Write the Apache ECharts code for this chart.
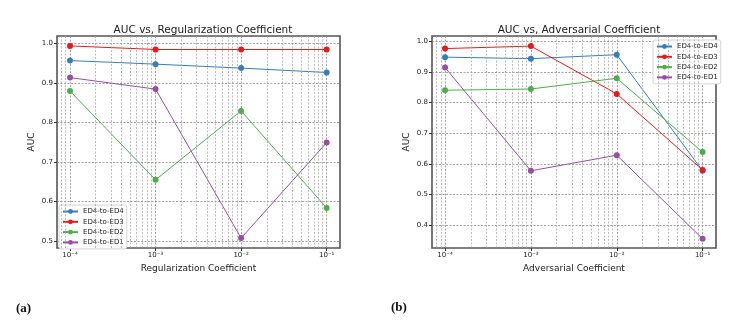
<!DOCTYPE html>
<html>
<head>
<meta charset="utf-8">
<script src="https://cdn.jsdelivr.net/npm/echarts@6/dist/echarts.min.js"></script>
<style>
  html, body { margin: 0; padding: 0; background: #fff; }
  #main { width: 756px; height: 333px; }
</style>
</head>
<body>
<div id="main"></div>
<script>
// coefficient values on the x axis (same for both panels)
var coefs = [1e-4, 1e-3, 1e-2, 1e-1];
var xTickLabels = ['10⁻⁴', '10⁻³', '10⁻²', '10⁻¹'];
var names = ['ED4-to-ED4', 'ED4-to-ED3', 'ED4-to-ED2', 'ED4-to-ED1'];
var colors = ['#377eb8', '#e41a1c', '#4daf4a', '#984ea3'];

// (a) AUC vs regularization coefficient
var regED4 = [0.956, 0.947, 0.937, 0.926];
var regED3 = [0.993, 0.984, 0.984, 0.984];
var regED2 = [0.879, 0.655, 0.829, 0.584];
var regED1 = [0.913, 0.884, 0.508, 0.749];
var regTicks = [0.5, 0.6, 0.7, 0.8, 0.9, 1.0];

// (b) AUC vs adversarial coefficient
var advED4 = [0.948, 0.943, 0.956, 0.577];
var advED3 = [0.976, 0.984, 0.828, 0.580];
var advED2 = [0.840, 0.844, 0.879, 0.638];
var advED1 = [0.914, 0.577, 0.628, 0.355];
var advTicks = [0.4, 0.5, 0.6, 0.7, 0.8, 0.9, 1.0];

var xMin = -4.152, xMax = -0.844;
var exps = coefs.map(function (c) { return Math.log10(c); });

// minor grid positions like matplotlib's log axis (2..9 in each decade)
var minor = [];
for (var n = -5; n <= -1; n++) {
  for (var k = 2; k <= 9; k++) {
    var v = n + Math.log10(k);
    if (v > xMin && v < xMax) minor.push(v);
  }
}

var chart = echarts.init(document.getElementById('main'));
var font = 'DejaVu Sans';
var gridLine = { show: true, lineStyle: { color: '#8c8c8c', type: [2, 1.5], width: 0.8 } };

function xAxisFor(idx, name) {
  return {
    type: 'value', gridIndex: idx, min: xMin, max: xMax,
    name: name, nameLocation: 'middle', nameGap: 16,
    nameTextStyle: { fontFamily: font, fontSize: 9, color: '#222' },
    axisLine: { show: false },
    axisTick: { show: true, length: 3, customValues: exps, lineStyle: { color: '#333' } },
    axisLabel: {
      customValues: exps, fontFamily: font, fontSize: 7, color: '#222', margin: 4,
      formatter: function (v) {
        var i = exps.findIndex(function (e) { return Math.abs(e - v) < 1e-6; });
        return i >= 0 ? xTickLabels[i] : '';
      }
    },
    splitLine: gridLine
  };
}

function yAxisFor(idx, min, max, ticks) {
  return {
    type: 'value', gridIndex: idx, min: min, max: max,
    name: 'AUC', nameLocation: 'middle', nameGap: 21,
    nameTextStyle: { fontFamily: font, fontSize: 9, color: '#222' },
    axisLine: { show: false },
    axisTick: { show: true, length: 3, customValues: ticks, lineStyle: { color: '#333' } },
    axisLabel: {
      customValues: ticks, fontFamily: font, fontSize: 7, color: '#222', margin: 4,
      formatter: function (v) { return v.toFixed(1); }
    },
    splitLine: gridLine
  };
}

function lineSeries(name, vals, i, idx) {
  return {
    name: name, type: 'line', xAxisIndex: idx, yAxisIndex: idx,
    data: vals.map(function (v, j) { return [exps[j], v]; }),
    symbol: 'circle', symbolSize: 6, color: colors[i],
    lineStyle: { width: 1, color: colors[i] },
    itemStyle: { color: colors[i] },
    z: 3
  };
}

function minorSeries(idx) {
  return {
    type: 'line', xAxisIndex: idx, yAxisIndex: idx, data: [], silent: true,
    markLine: {
      silent: true, symbol: 'none', label: { show: false },
      lineStyle: { color: '#a0a0a0', type: [2, 1.5], width: 0.7 },
      data: minor.map(function (v) { return { xAxis: v }; }),
      animation: false
    }
  };
}

function legendFor(left, top) {
  return {
    data: names, orient: 'vertical', left: left, top: top,
    itemWidth: 15, itemHeight: 6, itemGap: 3.3, padding: [3, 3, 3, 3],
    backgroundColor: '#fff', borderColor: '#ccc', borderWidth: 0.8, borderRadius: 2,
    textStyle: { fontFamily: font, fontSize: 7, color: '#222' }
  };
}

var option = {
  animation: false,
  title: [
    { text: 'AUC vs, Regularization Coefficient', left: 198, top: 20, textAlign: 'center',
      textStyle: { fontFamily: font, fontSize: 10.5, fontWeight: 'normal', color: '#222' } },
    { text: 'AUC vs, Adversarial Coefficient', left: 574, top: 20, textAlign: 'center',
      textStyle: { fontFamily: font, fontSize: 10.5, fontWeight: 'normal', color: '#222' } },
    { text: '(a)', left: 11, top: 297,
      textStyle: { fontFamily: 'Liberation Serif', fontSize: 13, fontWeight: 'bold', color: '#111' } },
    { text: '(b)', left: 386, top: 296,
      textStyle: { fontFamily: 'Liberation Serif', fontSize: 13, fontWeight: 'bold', color: '#111' } }
  ],
  legend: [legendFor(59, 205), legendFor(653, 40)],
  grid: [
    { left: 57, top: 36, width: 283, height: 212, show: true, borderColor: '#555', borderWidth: 1.6, backgroundColor: 'transparent' },
    { left: 432, top: 36, width: 284, height: 212, show: true, borderColor: '#555', borderWidth: 1.6, backgroundColor: 'transparent' }
  ],
  xAxis: [xAxisFor(0, 'Regularization Coefficient'), xAxisFor(1, 'Adversarial Coefficient')],
  yAxis: [yAxisFor(0, 0.483, 1.018, regTicks), yAxisFor(1, 0.325, 1.017, advTicks)],
  series: [
    minorSeries(0), minorSeries(1),
    lineSeries(names[0], regED4, 0, 0),
    lineSeries(names[1], regED3, 1, 0),
    lineSeries(names[2], regED2, 2, 0),
    lineSeries(names[3], regED1, 3, 0),
    lineSeries(names[0], advED4, 0, 1),
    lineSeries(names[1], advED3, 1, 1),
    lineSeries(names[2], advED2, 2, 1),
    lineSeries(names[3], advED1, 3, 1)
  ]
};
chart.setOption(option);
</script>
</body>
</html>
